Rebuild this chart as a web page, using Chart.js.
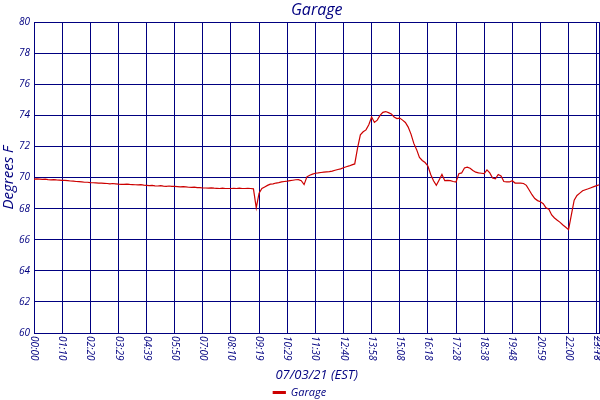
<!DOCTYPE html>
<html>
<head>
<meta charset="utf-8">
<script src="https://cdn.jsdelivr.net/npm/chart.js@4.4.0/dist/chart.umd.min.js"></script>
<style>
html,body{margin:0;padding:0;background:#fff;}
#wrap{width:600px;height:400px;}
</style>
</head>
<body>
<div id="wrap"><canvas id="c" width="600" height="400"></canvas></div>
<script>
const seriesName = "Garage";
const tickLabels = ["00:00","01:10","02:20","03:29","04:39","05:50","07:00","08:10","09:19","10:29","11:30","12:40","13:58","15:08","16:18","17:28","18:38","19:48","20:59","22:00","23:18","23:59"];
const pointsPerTick = 10;
const temps = [
69.9,69.92,69.9,69.88,69.9,69.87,69.86,69.87,69.85,69.84,69.82,
69.82,69.8,69.78,69.77,69.75,69.74,69.72,69.7,69.7,69.68,
69.67,69.66,69.65,69.64,69.63,69.62,69.6,69.62,69.6,69.58,
69.57,69.56,69.58,69.56,69.55,69.54,69.53,69.55,69.52,69.5,
69.48,69.5,69.47,69.46,69.48,69.45,69.44,69.46,69.43,69.43,
69.42,69.4,69.42,69.4,69.38,69.37,69.39,69.36,69.35,69.33,
69.33,69.32,69.34,69.32,69.31,69.3,69.32,69.3,69.3,69.3,
69.31,69.3,69.32,69.3,69.3,69.31,69.3,69.28,
68.05,69.0,69.3,69.4,69.5,69.58,69.6,69.65,69.68,69.72,
69.75,69.77,69.8,69.83,69.86,69.87,69.8,69.55,70.05,70.15,
70.22,70.28,70.3,70.33,70.35,70.37,70.38,70.42,70.47,70.52,
70.56,70.63,70.7,70.75,70.82,70.88,71.9,72.75,72.95,73.07,
73.4,73.9,73.55,73.7,74.0,74.2,74.25,74.18,74.1,73.9,
73.8,73.83,73.7,73.55,73.25,72.8,72.2,71.8,71.3,71.1,
70.97,70.75,70.2,69.8,69.5,69.85,70.2,69.8,69.82,69.8,
69.75,69.72,70.25,70.3,70.62,70.67,70.6,70.46,70.35,70.3,
70.28,70.25,70.5,70.3,69.97,69.92,70.2,70.1,69.75,69.72,
69.72,69.8,69.65,69.64,69.64,69.62,69.5,69.2,68.9,68.65,
68.52,68.45,68.32,68.05,67.97,67.6,67.4,67.25,67.12,66.95,
66.8,66.65,67.6,68.55,68.85,69.0,69.15,69.22,69.28,69.35,
69.42,69.48,69.54
];
const yMin = 60, yMax = 80, yStep = 2;

const NAVY = '#000080';
const RED = '#CC0000';
const lastIdx = temps.length - 1;
const tickIdx = tickLabels.map((l, i) => i === tickLabels.length - 1 ? lastIdx : i * pointsPerTick);
const points = temps.map((v, i) => ({x: i, y: v}));

const xLabelPlugin = {
  id: 'xlabels',
  afterDraw(chart) {
    const s = chart.scales.x, ctx = chart.ctx;
    ctx.save();
    ctx.fillStyle = NAVY;
    ctx.font = 'italic 10px "Open Sans"';
    ctx.textAlign = 'left';
    ctx.textBaseline = 'middle';
    s.ticks.forEach((t, i) => {
      const x = s.getPixelForValue(t.value);
      ctx.save();
      ctx.translate(x, s.top + 3);
      ctx.rotate(Math.PI / 2);
      ctx.fillText(tickLabels[i], 0, 0);
      ctx.restore();
    });
    ctx.restore();
  }
};

new Chart(document.getElementById('c'), {
  type: 'line',
  data: {
    datasets: [{
      label: seriesName,
      data: points,
      borderColor: RED,
      backgroundColor: RED,
      borderWidth: 1.2,
      pointRadius: 0,
      tension: 0
    }]
  },
  options: {
    responsive: false,
    animation: false,
    layout: {padding: {left: 0, right: 0.5, top: 0, bottom: -8}},
    plugins: {
      title: {
        display: true,
        text: 'Garage',
        color: NAVY,
        fullSize: false,
        font: {family: '"Open Sans"', size: 16, style: 'italic', weight: 'normal', lineHeight: 1.2},
        padding: {top: 1, bottom: 2}
      },
      legend: {
        position: 'bottom',
        labels: {
          color: NAVY,
          boxWidth: 12,
          boxHeight: 2,
          padding: 4,
          font: {family: '"Open Sans"', size: 11, style: 'italic'}
        }
      },
      tooltip: {enabled: false}
    },
    scales: {
      x: {
        type: 'linear',
        min: 0,
        max: lastIdx,
        afterBuildTicks: (scale) => { scale.ticks = tickIdx.map(v => ({value: v})); },
        afterFit: (scale) => { scale.height = 408 - 333 - scale.chart.legend.height; },
        ticks: {display: false},
        grid: {color: NAVY, lineWidth: 1, drawTicks: false},
        border: {color: NAVY, width: 1},
        title: {
          display: true,
          text: '07/03/21 (EST)',
          color: NAVY,
          font: {family: '"Open Sans"', size: 13, style: 'italic'},
          padding: {top: 0, bottom: 0}
        }
      },
      y: {
        min: yMin,
        max: yMax,
        afterFit: (scale) => { scale.width = 34; },
        ticks: {
          stepSize: yStep,
          color: NAVY,
          padding: 4,
          font: {family: '"Open Sans"', size: 10, style: 'italic'}
        },
        grid: {color: NAVY, lineWidth: 1, drawTicks: false},
        border: {color: NAVY, width: 1},
        title: {
          display: true,
          text: 'Degrees F',
          color: NAVY,
          font: {family: '"Open Sans"', size: 15, style: 'italic'},
          padding: {top: 0, bottom: 0}
        }
      }
    }
  },
  plugins: [xLabelPlugin]
});
</script>
</body>
</html>
